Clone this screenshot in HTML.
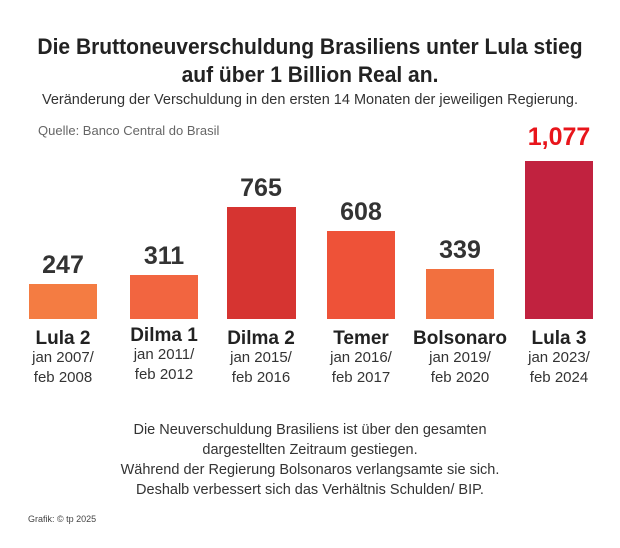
<!DOCTYPE html>
<html><head><meta charset="utf-8"><style>
body{margin:0;background:#fff;font-family:"Liberation Sans",sans-serif;}
#c{position:relative;width:620px;height:548px;overflow:hidden;}
.t{position:absolute;white-space:nowrap;}
.bar{position:absolute;}
.v{position:absolute;width:100px;text-align:center;font-weight:bold;font-size:25px;color:#333;}
.n{position:absolute;width:110px;text-align:center;font-weight:bold;font-size:19px;color:#222;}
.d{position:absolute;width:110px;text-align:center;font-size:15px;color:#333;line-height:20px;}
</style></head><body><div id="c">
<div class="t" style="left:0;width:620px;text-align:center;top:33px;font-size:22px;font-weight:bold;color:#222;line-height:28px;transform:scaleX(0.955)">Die Bruttoneuverschuldung Brasiliens unter Lula stieg<br>auf über 1 Billion Real an.</div>
<div class="t" style="left:0;width:620px;text-align:center;top:92px;font-size:14.5px;color:#333">Veränderung der Verschuldung in den ersten 14 Monaten der jeweiligen Regierung.</div>
<div class="t" style="left:38px;top:123px;font-size:13px;color:#666">Quelle: Banco Central do Brasil</div>

<div class="bar" style="left:29px;width:68px;top:284px;height:35px;background:#f47c42"></div>
<div class="bar" style="left:130px;width:68px;top:275px;height:44px;background:#f26540"></div>
<div class="bar" style="left:227px;width:69px;top:207px;height:112px;background:#d63431"></div>
<div class="bar" style="left:327px;width:68px;top:231px;height:88px;background:#ee5238"></div>
<div class="bar" style="left:426px;width:68px;top:269px;height:50px;background:#f2703f"></div>
<div class="bar" style="left:525px;width:68px;top:161px;height:158px;background:#c1223f"></div>

<div class="v" style="left:13px;top:251px">247</div>
<div class="v" style="left:114px;top:242px">311</div>
<div class="v" style="left:211px;top:174px">765</div>
<div class="v" style="left:311px;top:198px">608</div>
<div class="v" style="left:410px;top:236px">339</div>
<div class="v" style="left:509px;top:123px;color:#e8151b">1,077</div>

<div class="n" style="left:8px;top:328px">Lula 2</div>
<div class="n" style="left:109px;top:325px">Dilma 1</div>
<div class="n" style="left:206px;top:328px">Dilma 2</div>
<div class="n" style="left:306px;top:328px">Temer</div>
<div class="n" style="left:405px;top:328px">Bolsonaro</div>
<div class="n" style="left:504px;top:328px">Lula 3</div>

<div class="d" style="left:8px;top:348px">jan 2007/<br>feb 2008</div>
<div class="d" style="left:109px;top:345px">jan 2011/<br>feb 2012</div>
<div class="d" style="left:206px;top:348px">jan 2015/<br>feb 2016</div>
<div class="d" style="left:306px;top:348px">jan 2016/<br>feb 2017</div>
<div class="d" style="left:405px;top:348px">jan 2019/<br>feb 2020</div>
<div class="d" style="left:504px;top:348px">jan 2023/<br>feb 2024</div>

<div class="t" style="left:0;width:620px;text-align:center;top:420px;font-size:14.5px;color:#333;line-height:20px">Die Neuverschuldung Brasiliens ist über den gesamten<br>dargestellten Zeitraum gestiegen.<br>Während der Regierung Bolsonaros verlangsamte sie sich.<br>Deshalb verbessert sich das Verhältnis Schulden/ BIP.</div>
<div class="t" style="left:28px;top:514px;font-size:9px;color:#444">Grafik: © tp 2025</div>
</div></body></html>
